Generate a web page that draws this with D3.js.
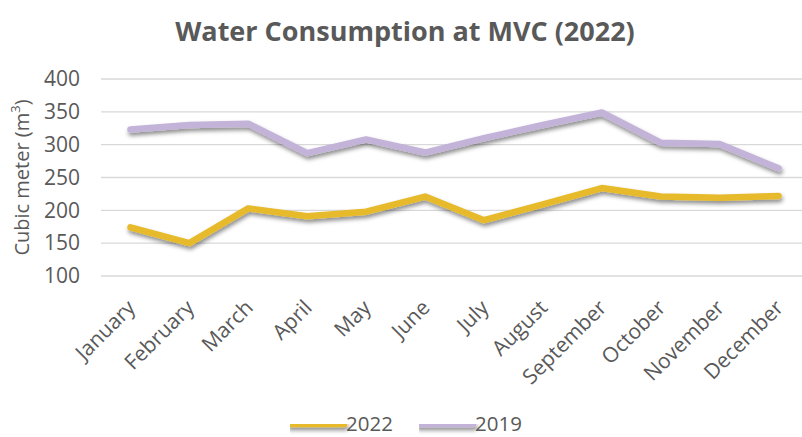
<!DOCTYPE html>
<html>
<head>
<meta charset="utf-8">
<script src="https://cdn.jsdelivr.net/npm/d3@7"></script>
<style>
  body { margin: 0; background: #fff; }
  text { font-family: "Open Sans", "Noto Sans", sans-serif; fill: #595959; }
</style>
</head>
<body>
<div id="chart"></div>
<script>
const canvas = { w: 802, h: 437 };

const months = ["January", "February", "March", "April", "May", "June",
    "July", "August", "September", "October", "November", "December"];
const values2022 = [174, 150, 203, 191, 198, 221, 185, 209, 234, 221, 219, 222];
const values2019 = [323, 330, 332, 287, 308, 288, 310, 330, 349, 303, 301, 264];
const yTicks = [100, 150, 200, 250, 300, 350, 400];

const series = [
    { name: "2022", values: values2022, color: "#E6BA2A" },
    { name: "2019", values: values2019, color: "#C3B3D8" }
];

const margin = { left: 101, right: -6, top: 79, bottom: 161 };
const fs = 21;

const x = d3.scaleBand()
    .domain(months)
    .range([margin.left, canvas.w - margin.right]);

const y = d3.scaleLinear()
    .domain([100, 400])
    .range([canvas.h - margin.bottom, margin.top]);

const svg = d3.select("#chart")
    .append("svg")
    .attr("width", canvas.w)
    .attr("height", canvas.h);

// soft drop shadow like the office chart
const defs = svg.append("defs");
const f = defs.append("filter").attr("id", "shadow")
    .attr("filterUnits", "userSpaceOnUse")
    .attr("x", 0).attr("y", 0).attr("width", canvas.w).attr("height", canvas.h);
f.append("feDropShadow")
    .attr("dx", 1).attr("dy", 3).attr("stdDeviation", 2)
    .attr("flood-color", "#000").attr("flood-opacity", 0.45);

svg.append("text")
    .attr("x", 405)
    .attr("y", 41)
    .attr("text-anchor", "middle")
    .attr("font-size", 27)
    .attr("font-weight", "bold")
    .text("Water Consumption at MVC (2022)");

// gridlines
svg.append("g")
    .selectAll("line")
    .data(yTicks)
    .join("line")
    .attr("x1", margin.left)
    .attr("x2", canvas.w)
    .attr("y1", d => y(d))
    .attr("y2", d => y(d))
    .attr("stroke", "#d9d9d9")
    .attr("stroke-width", 1.3);

// y axis labels
const yAxis = svg.append("g")
    .attr("transform", `translate(${margin.left},0)`)
    .call(d3.axisLeft(y).tickValues(yTicks).tickSize(0).tickPadding(21));
yAxis.select(".domain").remove();
yAxis.selectAll("text")
    .attr("font-size", fs)
    .attr("fill", "#595959")
    .style("font-family", "'Open Sans', sans-serif");

// y axis title
const yt = svg.append("text")
    .attr("transform", `translate(29, ${(y(100) + y(400)) / 2}) rotate(-90)`)
    .attr("text-anchor", "middle")
    .attr("font-size", 20);
yt.append("tspan").text("Cubic meter (m");
yt.append("tspan").attr("baseline-shift", "super").attr("font-size", 13).text("3");
yt.append("tspan").text(")");

// x axis labels
const xAxis = svg.append("g")
    .call(d3.axisBottom(x).tickSize(0).tickPadding(0));
xAxis.select(".domain").remove();
xAxis.selectAll("text")
    .attr("font-size", fs)
    .attr("fill", "#595959")
    .style("font-family", "'Open Sans', sans-serif")
    .attr("text-anchor", "end")
    .attr("y", 0)
    .attr("dy", 0)
    .attr("transform", "translate(6, 309) rotate(-45)");

// lines
const line = d3.line()
    .x((d, i) => x(months[i]) + x.bandwidth() / 2)
    .y(d => y(d));

svg.append("g")
    .selectAll("path")
    .data(series)
    .join("path")
    .attr("d", d => line(d.values))
    .attr("fill", "none")
    .attr("stroke", d => d.color)
    .attr("stroke-width", 6.5)
    .attr("stroke-linecap", "round")
    .attr("stroke-linejoin", "round")
    .attr("filter", "url(#shadow)");

// legend
const legendX = [290, 419];
const legend = svg.append("g")
    .selectAll("g")
    .data(series)
    .join("g")
    .attr("transform", (d, i) => `translate(${legendX[i]}, 424)`);

legend.append("line")
    .attr("x1", 0).attr("x2", 54)
    .attr("stroke", d => d.color)
    .attr("stroke-width", 6.5)
    .attr("stroke-linecap", "round")
    .attr("filter", "url(#shadow)");

legend.append("text")
    .attr("x", 56)
    .attr("y", 7)
    .attr("font-size", 20.5)
    .text(d => d.name);
</script>
</body>
</html>
